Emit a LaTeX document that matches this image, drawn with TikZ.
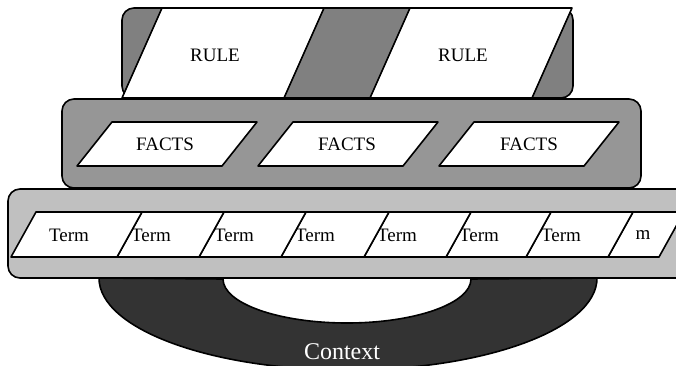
\documentclass[tikz,border=0pt]{standalone}
\usepackage{fontspec}
\setmainfont{Liberation Serif}
\definecolor{rulegray}{HTML}{808080}
\definecolor{factsgray}{HTML}{969696}
\definecolor{termgray}{HTML}{C0C0C0}
\definecolor{ctxgray}{HTML}{333333}
\begin{document}
\begin{tikzpicture}[x=1pt,y=-1pt,
  outline/.style={draw=black,line width=1.6pt,line join=round},
  panel/.style={outline,rounded corners=12pt},
  cell/.style={outline,fill=white},
  lbl/.style={font=\fontsize{19}{19}\selectfont,inner sep=0pt},
  ctxlbl/.style={font=\fontsize{24}{24}\selectfont,inner sep=0pt,text=white}]
\useasboundingbox (0,0) rectangle (676,366);
\clip (0,0) rectangle (676,366);

% Context: lower half ring
\filldraw[outline,fill=ctxgray]
  (99,278) arc[start angle=180,end angle=0,x radius=249,y radius=92]
  -- (471,279) arc[start angle=0,end angle=180,x radius=124,y radius=44]
  -- cycle;
\node[ctxlbl] (context) at (342,352) {Context};

% Term layer
\draw[panel,fill=termgray] (8,189) rectangle (720,278);
\foreach \a/\b/\tx/\t/\n in {608/659/643/m/t8, 526/608/561/Term/t7,
    446/526/479/Term/t6, 364/446/397/Term/t5, 281/364/315/Term/t4,
    199/281/234/Term/t3, 117/199/151/Term/t2, 11/117/69/Term/t1}{
  \filldraw[cell] (\a,257) -- (\a+25,212) -- (\b+25,212) -- (\b,257) -- cycle;
  \node[lbl] (\n) at (\tx,235) {\t};
}

% Rule layer
\draw[panel,fill=rulegray] (122,8) rectangle (573,98);
\foreach \a/\tx/\n in {122/215/r1, 370/463/r2}{
  \filldraw[cell] (\a,98) -- (\a+40,8) -- (\a+202,8) -- (\a+162,98) -- cycle;
  \node[lbl] (\n) at (\tx,55) {RULE};
}

% Facts layer
\draw[panel,fill=factsgray] (62,99) rectangle (641,188);
\foreach \a/\tx/\n in {77/165/f1, 258/347/f2, 439/529/f3}{
  \filldraw[cell] (\a,166) -- (\a+35,122) -- (\a+180,122) -- (\a+145,166) -- cycle;
  \node[lbl] (\n) at (\tx,144) {FACTS};
}
\end{tikzpicture}
\end{document}
